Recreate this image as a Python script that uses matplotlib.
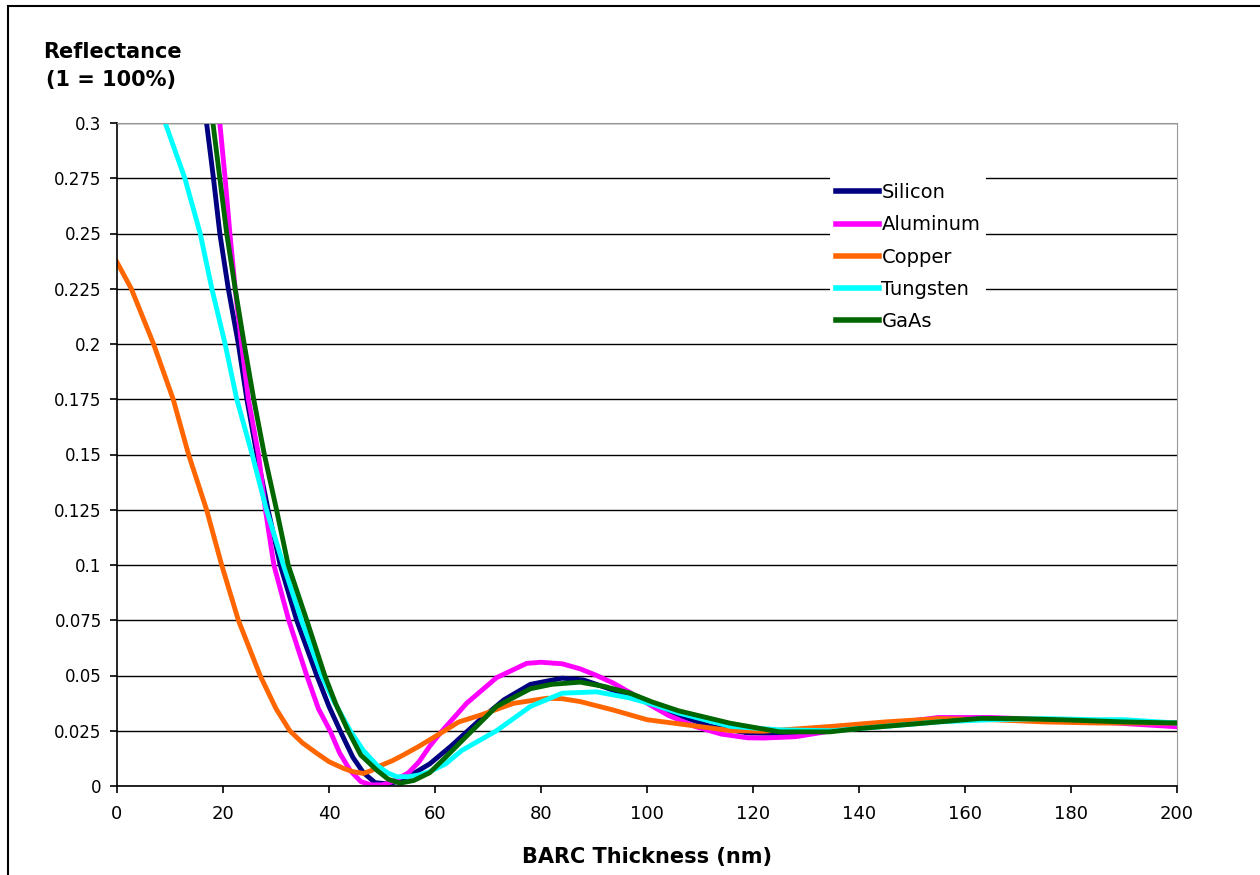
import matplotlib
matplotlib.use("Agg")
import matplotlib.pyplot as plt
import matplotlib.patches as patches

# thickness (nm) / reflectance
silicon_x = [15.5, 16.9, 18.2, 19.4, 21, 22.9, 24.5, 26.4, 28.5, 30.8, 33.9, 37.7, 40, 42.1, 44.5, 46.5, 48.7,
             51, 53, 55.5, 59, 63, 68.5, 73, 78, 84, 88, 93.6, 100, 106, 112, 119, 125, 130, 140, 150, 160,
             170, 180, 190, 200]
silicon_y = [0.33, 0.3, 0.275, 0.25, 0.225, 0.2, 0.175, 0.15, 0.125, 0.1, 0.075, 0.05, 0.036, 0.025, 0.013,
             0.006, 0.0015, 0.001, 0.002, 0.005, 0.010, 0.018, 0.030, 0.039, 0.046, 0.0488, 0.048, 0.0434,
             0.038, 0.032, 0.027, 0.024, 0.0238, 0.0245, 0.027, 0.029, 0.0305, 0.030, 0.0295, 0.029, 0.0285]

aluminum_x = [17.5, 19.4, 20.4, 21.3, 22.3, 23.5, 24.8, 26.7, 28.0, 29.6, 32.4, 35.8, 38, 40.2, 42, 44, 46, 48,
              50, 52, 55, 57, 59, 61, 66, 71.6, 77.3, 80, 84, 87.4, 90.5, 93.6, 97, 100, 104, 109, 114, 119,
              122, 128, 135, 145, 155, 165, 175, 185, 200]
aluminum_y = [0.35, 0.3, 0.275, 0.25, 0.225, 0.2, 0.175, 0.15, 0.125, 0.1, 0.075, 0.05, 0.035, 0.025, 0.015,
              0.007, 0.002, 0.0005, 0.0005, 0.002, 0.006, 0.011, 0.018, 0.024, 0.0375, 0.049, 0.0555, 0.056,
              0.0553, 0.053, 0.050, 0.0466, 0.042, 0.0375, 0.032, 0.027, 0.0235, 0.0218, 0.0217, 0.0223, 0.025,
              0.028, 0.031, 0.031, 0.030, 0.029, 0.0268]

copper_x = [0, 2.7, 6.9, 10.6, 13.5, 16.9, 19.75, 22.9, 27, 30, 32.6, 35, 37.7, 40, 42.7, 44.5, 46.5, 48, 49.5,
            52, 54, 57, 61, 64.5, 68.5, 74.8, 81.1, 84, 87.4, 93.6, 100, 108, 116, 122, 128, 135, 145, 155,
            165, 175, 185, 200]
copper_y = [0.237, 0.225, 0.2, 0.175, 0.15, 0.125, 0.1, 0.075, 0.05, 0.035, 0.025, 0.0195, 0.0148, 0.011, 0.008,
            0.0065, 0.0057, 0.007, 0.009, 0.0115, 0.014, 0.018, 0.0238, 0.029, 0.032, 0.0374, 0.0397, 0.0395,
            0.0382, 0.0344, 0.030, 0.0275, 0.025, 0.0248, 0.0258, 0.027, 0.029, 0.0305, 0.030, 0.029, 0.0285,
            0.0285]

tungsten_x = [7, 9.1, 12.8, 15.7, 17.9, 20.4, 22.6, 25.5, 28.2, 31.4, 34.8, 38.6, 41, 44, 46.5, 49, 51, 52.8,
              55, 57, 59, 62, 65, 71.6, 78, 84, 90.5, 96.8, 101, 106, 115.7, 125, 135, 145, 155, 165, 175, 185,
              190, 200]
tungsten_y = [0.315, 0.3, 0.275, 0.25, 0.225, 0.2, 0.175, 0.15, 0.125, 0.1, 0.075, 0.05, 0.038, 0.025, 0.016,
              0.0095, 0.006, 0.0042, 0.0042, 0.005, 0.0065, 0.010, 0.016, 0.025, 0.036, 0.042, 0.0426, 0.0398,
              0.037, 0.033, 0.027, 0.0254, 0.025, 0.027, 0.029, 0.030, 0.0305, 0.030, 0.030, 0.0285]

gaas_x = [16.3, 18.1, 19.4, 20.7, 22.3, 24.0, 25.8, 27.8, 30.1, 32.3, 35.8, 39.2, 41.3, 43.6, 46, 49, 51.2, 53.4,
          56, 59, 62, 65.3, 71.6, 78, 82, 87.4, 92, 96.8, 101, 106, 115.7, 125, 134.5, 140, 148, 155, 163, 170,
          179, 190, 200]
gaas_y = [0.335, 0.3, 0.275, 0.25, 0.225, 0.2, 0.175, 0.15, 0.125, 0.1, 0.075, 0.05, 0.037, 0.025, 0.014, 0.0072,
          0.003, 0.0013, 0.0025, 0.006, 0.013, 0.021, 0.036, 0.044, 0.046, 0.047, 0.045, 0.042, 0.038, 0.034,
          0.0284, 0.0245, 0.0245, 0.026, 0.0276, 0.029, 0.0306, 0.0305, 0.0299, 0.029, 0.0285]

series = [
    ("Silicon", silicon_x, silicon_y, "#000080"),
    ("Aluminum", aluminum_x, aluminum_y, "#ff00ff"),
    ("Copper", copper_x, copper_y, "#ff6600"),
    ("Tungsten", tungsten_x, tungsten_y, "#00ffff"),
    ("GaAs", gaas_x, gaas_y, "#006600"),
]

x_ticks = list(range(0, 201, 20))
y_ticks = [0, 0.025, 0.05, 0.075, 0.1, 0.125, 0.15, 0.175, 0.2, 0.225, 0.25, 0.275, 0.3]
y_labels = ["0", "0.025", "0.05", "0.075", "0.1", "0.125", "0.15", "0.175", "0.2", "0.225", "0.25", "0.275", "0.3"]

plt.rcParams["font.family"] = ["DejaVu Sans"]

fig = plt.figure(figsize=(12.6, 8.75), dpi=100)
ax = fig.add_axes([117 / 1260, 1 - 786 / 875, 1060 / 1260, 663 / 875])

for name, xs, ys, col in series:
    ax.plot(xs, ys, color=col, lw=3.5, label=name, solid_joinstyle="round")

ax.set_xlim(0, 200)
ax.set_ylim(0, 0.3)
ax.set_xticks(x_ticks)
ax.set_yticks(y_ticks)
ax.set_yticklabels(y_labels)
ax.grid(axis="y", color="black", lw=1.0)
ax.set_axisbelow(True)
ax.tick_params(axis="both", direction="out", length=5, width=1.2, color="black")
ax.tick_params(axis="x", labelsize=13, pad=9)
ax.tick_params(axis="y", labelsize=12, pad=6)
ax.spines["left"].set_color("black")
ax.spines["bottom"].set_color("black")
ax.spines["left"].set_linewidth(1.2)
ax.spines["bottom"].set_linewidth(1.2)
ax.spines["top"].set_color("#999999")
ax.spines["right"].set_color("#999999")

leg = ax.legend(loc="upper left", bbox_to_anchor=(0.6726, 0.918), borderaxespad=0, frameon=True,
                fancybox=False, edgecolor="none", facecolor="white", framealpha=1, fontsize=14,
                handlelength=2.2, handletextpad=0.15, labelspacing=0.68, borderpad=0.3)
for line in leg.get_lines():
    line.set_linewidth(4)

ax.set_xlabel("BARC Thickness (nm)", fontsize=15, fontweight="bold", labelpad=17)
fig.text(43 / 1260, 1 - 52 / 875, "Reflectance", fontsize=15, fontweight="bold", ha="left", va="center")
fig.text(46 / 1260, 1 - 80 / 875, "(1 = 100%)", fontsize=15, fontweight="bold", ha="left", va="center")

# outer frame (only left and top edges visible in the reference)
fig.add_artist(patches.Rectangle((8 / 1260, -0.1), 1.2, 1.1 - 6 / 875, transform=fig.transFigure,
                                 fill=False, lw=1.5, ec="black"))

fig.savefig("out.png", dpi=100)
